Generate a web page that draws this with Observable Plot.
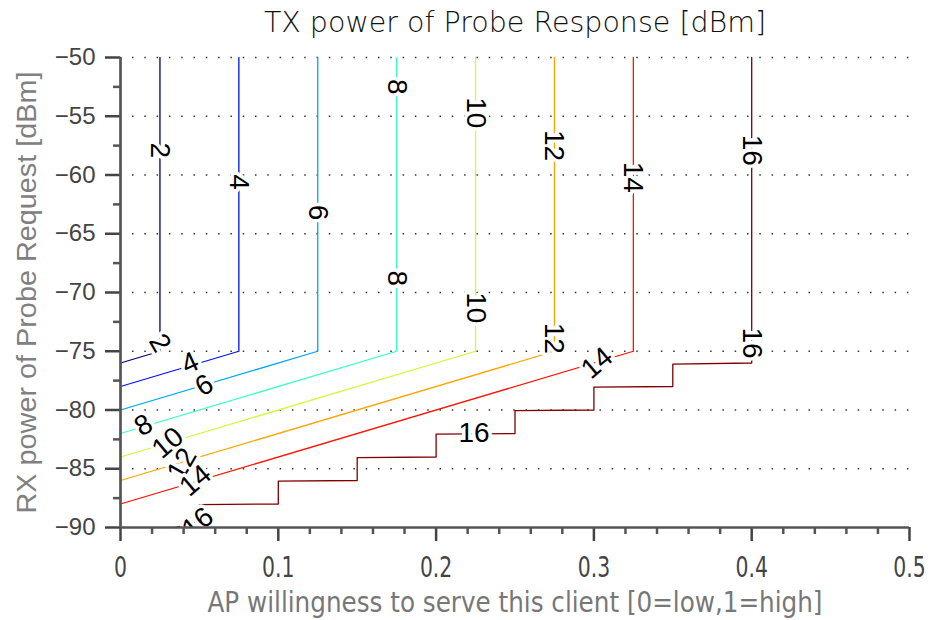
<!DOCTYPE html>
<html>
<head>
<meta charset="utf-8">
<script src="https://cdn.jsdelivr.net/npm/d3@7"></script>
<script src="https://cdn.jsdelivr.net/npm/@observablehq/plot@0.6"></script>
<style>
  html, body { margin: 0; padding: 0; background: #fff; }
  #chart { width: 932px; height: 620px; }
</style>
</head>
<body>
<div id="chart"></div>
<script>
// ---- Data ----
const levels = [2, 4, 6, 8, 10, 12, 14, 16];
const jetColors = ["#000080", "#0012ff", "#00a4ff", "#37ffc8", "#c8ff37", "#ffa400", "#ff1200", "#800000"];

// contour vertices [willingness, rxPower]
const contour2  = [[0.025, -50], [0.025, -75], [0, -76]];
const contour4  = [[0.075, -50], [0.075, -75], [0, -78]];
const contour6  = [[0.125, -50], [0.125, -75], [0, -80]];
const contour8  = [[0.175, -50], [0.175, -75], [0, -82]];
const contour10 = [[0.225, -50], [0.225, -75], [0, -84]];
const contour12 = [[0.275, -50], [0.275, -75], [0, -86]];
const contour14 = [[0.325, -50], [0.325, -75], [0, -88]];
const contour16 = [[0.4, -50], [0.4, -76], [0.35, -76.1], [0.35, -78], [0.3, -78.05], [0.3, -80], [0.25, -80.05],
                   [0.25, -82], [0.2, -82.05], [0.2, -84], [0.15, -84.05], [0.15, -86], [0.1, -86.05], [0.1, -88],
                   [0.05, -88.05], [0.05, -89.5], [0.035, -90]];
const contours = [contour2, contour4, contour6, contour8, contour10, contour12, contour14, contour16];

// inline contour labels
const labelText  = ["2", "4", "6", "8", "10", "12", "8", "10", "12", "14", "16", "16",
                    "2", "4", "6", "8", "10", "12", "14", "16", "14", "16"];
const labelW     = [0.025, 0.075, 0.125, 0.175, 0.225, 0.275, 0.175, 0.225, 0.275, 0.325, 0.4, 0.4,
                    0.025, 0.044, 0.053, 0.0146, 0.030, 0.039, 0.0475, 0.049, 0.302, 0.224];
const labelRx    = [-57.9, -60.6, -63.2, -52.5, -54.7, -57.5, -68.8, -71.3, -73.9, -60.2, -57.9, -74.3,
                    -74.3, -76.0, -77.9, -81.3, -82.8, -84.6, -86.0, -89.6, -76.0, -82.0];
const labelAngle = [90, 90, 90, 90, 90, 90, 90, 90, 90, 90, 90, 90,
                    60, -25, -30, -30, -40, -60, -40, -40, -40, 0];

const xMajor = [0, 0.1, 0.2, 0.3, 0.4, 0.5];
const xMinor = [0.02, 0.04, 0.06, 0.08, 0.12, 0.14, 0.16, 0.18, 0.22, 0.24, 0.26, 0.28, 0.32, 0.34, 0.36, 0.38, 0.42, 0.44, 0.46, 0.48];
const yMajor = [-90, -85, -80, -75, -70, -65, -60, -55, -50];
const yMinor = [-87.5, -82.5, -77.5, -72.5, -67.5, -62.5, -57.5, -52.5];
const yGrid  = [-85, -80, -75, -70, -65, -60, -55, -50];

const titleText = "TX power of Probe Response [dBm]";
const xLabel = "AP willingness to serve this client [0=low,1=high]";
const yLabel = "RX power of Probe Request [dBm]";

// ---- Build tables ----
const lineRows = contours.flatMap((c, i) => c.map(([w, rx]) => ({w, rx, level: levels[i]})));
const labelRows = labelText.map((t, i) => ({t, w: labelW[i], rx: labelRx[i], a: labelAngle[i]}));

const narrow = "'Liberation Sans Narrow', 'DejaVu Sans Condensed', 'Arial Narrow', sans-serif";
const arial = "'Liberation Sans', Arial, Helvetica, sans-serif";
const axisColor = "#555";

const chart = Plot.plot({
  width: 932,
  height: 620,
  marginLeft: 120,
  marginRight: 23,
  marginTop: 57,
  marginBottom: 93,
  x: {domain: [0, 0.5], axis: null},
  y: {domain: [-90, -50], axis: null},
  color: {type: "ordinal", domain: levels, range: jetColors},
  style: {background: "#fff", overflow: "visible"},
  marks: [
    Plot.gridY(yGrid, {stroke: "#333", strokeOpacity: 1, strokeWidth: 1.5, strokeDasharray: "1.5 10.8", strokeDashoffset: -12}),
    Plot.line(lineRows, {x: "w", y: "rx", z: "level", stroke: "level", strokeWidth: 1.3}),
    Plot.text(labelRows, {
      x: "w", y: "rx", text: "t", rotate: "a",
      fontSize: 28, fontFamily: arial, fill: "#000",
      stroke: "#fff", strokeWidth: 7, paintOrder: "stroke", strokeLinejoin: "round",
      clip: true
    }),
    // axes
    Plot.axisX({ticks: xMajor, tickSize: 14, tickPadding: 15, strokeWidth: 2.5, color: "#444",
      tickFormat: d3.format("~g"), fontSize: 29, fontFamily: narrow, label: null}),
    Plot.axisX({ticks: xMinor, tickSize: 7, strokeWidth: 2.5, color: axisColor, tickFormat: () => "", label: null}),
    Plot.axisY({ticks: yMajor, tickSize: 15, tickPadding: 10, strokeWidth: 2.5, color: "#444",
      tickFormat: d3.format("d"), fontSize: 24, fontFamily: arial, label: null}),
    Plot.axisY({ticks: yMinor, tickSize: 7, strokeWidth: 2.5, color: axisColor, tickFormat: () => "", label: null}),
    Plot.ruleX([0], {stroke: axisColor, strokeWidth: 2.7}),
    Plot.ruleY([-90], {stroke: axisColor, strokeWidth: 2.7}),
    // titles
    Plot.text([titleText], {frameAnchor: "top", dy: -35, fontSize: 28.5, fontFamily: "'DejaVu Sans', sans-serif",
      fontWeight: 200, fill: "#111", lineAnchor: "middle"}),
    Plot.text([xLabel], {frameAnchor: "bottom", dy: 75, fontSize: 29, fontFamily: narrow, fill: "#777", lineAnchor: "middle"}),
    Plot.text([yLabel], {frameAnchor: "left", dx: -93, rotate: -90, textAnchor: "middle", fontSize: 27, fontFamily: arial, fill: "#808080", lineAnchor: "middle"})
  ]
});
document.getElementById("chart").appendChild(chart);

// condense the narrow-font texts to the widths seen in the reference
const svg = d3.select(chart);
svg.selectAll("text").each(function () {
  const s = this.textContent;
  if (s === xLabel) {
    this.setAttribute("textLength", 615);
    this.setAttribute("lengthAdjust", "spacingAndGlyphs");
  } else if (s === yLabel) {
    this.setAttribute("textLength", 442);
    this.setAttribute("lengthAdjust", "spacingAndGlyphs");
  }
});
svg.selectAll("g[aria-label='x-axis tick label'] text").each(function () {
  const n = this.getComputedTextLength();
  if (n > 0) {
    this.setAttribute("textLength", (n * 0.78).toFixed(1));
    this.setAttribute("lengthAdjust", "spacingAndGlyphs");
  }
});
</script>
</body>
</html>
